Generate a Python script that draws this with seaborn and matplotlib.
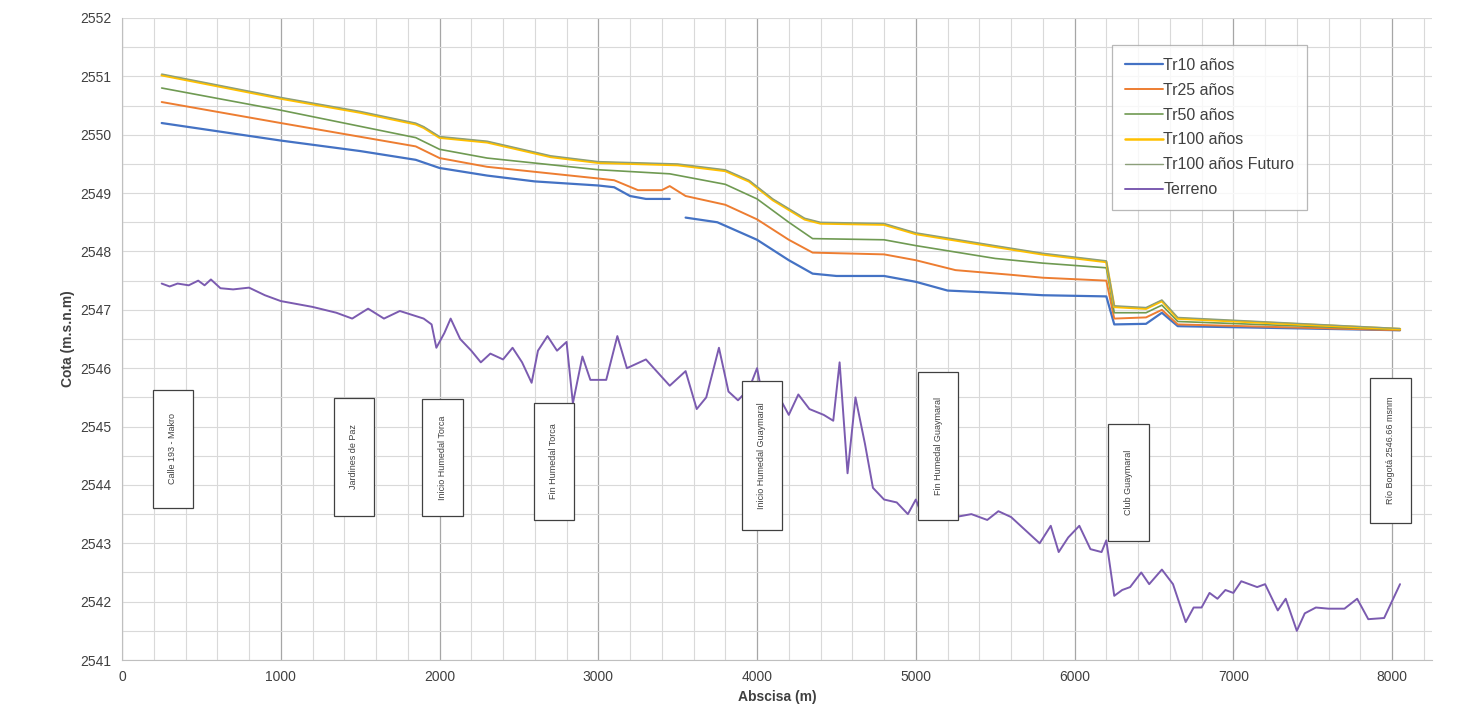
import pandas as pd
import matplotlib.pyplot as plt
import seaborn as sns
from matplotlib.patches import Rectangle
from matplotlib.ticker import MultipleLocator

# water surface profiles (abscisa m, cota m.s.n.m)
x_tr10_a = [250, 1000, 1500, 1850, 2000, 2300, 2600, 3000, 3100, 3200, 3300, 3450]
tr10_a = [2550.2, 2549.9, 2549.72, 2549.57, 2549.43, 2549.3, 2549.2, 2549.13, 2549.1, 2548.95, 2548.9, 2548.9]
x_tr10_b = [3550, 3750, 4000, 4200, 4350, 4500, 4800, 5000, 5200, 5600, 5800, 6200, 6250, 6450, 6550, 6650, 8050]
tr10_b = [2548.58, 2548.5, 2548.2, 2547.85, 2547.62, 2547.58, 2547.58, 2547.48, 2547.33, 2547.28, 2547.25,
          2547.23, 2546.75, 2546.76, 2546.95, 2546.72, 2546.65]

x_tr25 = [250, 1000, 1850, 2000, 2300, 3000, 3100, 3250, 3400, 3450, 3550, 3800, 4000, 4200, 4350, 4800,
          5000, 5250, 5600, 5800, 6200, 6250, 6450, 6550, 6650, 8050]
tr25 = [2550.56, 2550.2, 2549.8, 2549.6, 2549.45, 2549.25, 2549.22, 2549.05, 2549.05, 2549.12, 2548.95,
        2548.8, 2548.55, 2548.2, 2547.98, 2547.95, 2547.85, 2547.68, 2547.6, 2547.55, 2547.5, 2546.85,
        2546.87, 2547.0, 2546.75, 2546.65]

x_tr50 = [250, 1000, 1850, 2000, 2300, 3000, 3450, 3800, 4000, 4200, 4350, 4800, 5000, 5500, 5800, 6200,
          6250, 6450, 6550, 6650, 8050]
tr50 = [2550.8, 2550.42, 2549.95, 2549.75, 2549.6, 2549.4, 2549.33, 2549.15, 2548.9, 2548.5, 2548.22,
        2548.2, 2548.1, 2547.88, 2547.8, 2547.72, 2546.95, 2546.95, 2547.08, 2546.8, 2546.66]

x_tr100 = [250, 1000, 1500, 1850, 1900, 2000, 2300, 2700, 3000, 3500, 3800, 3950, 4100, 4300, 4400, 4800,
           5000, 5500, 5800, 6200, 6250, 6450, 6550, 6650, 8050]
tr100 = [2551.02, 2550.62, 2550.38, 2550.18, 2550.12, 2549.95, 2549.87, 2549.62, 2549.52, 2549.48, 2549.38,
         2549.2, 2548.88, 2548.55, 2548.48, 2548.46, 2548.3, 2548.08, 2547.95, 2547.82, 2547.05, 2547.02,
         2547.15, 2546.85, 2546.67]
tr100_fut = [2551.04, 2550.64, 2550.4, 2550.2, 2550.14, 2549.97, 2549.89, 2549.64, 2549.54, 2549.5, 2549.4,
             2549.22, 2548.9, 2548.57, 2548.5, 2548.48, 2548.32, 2548.1, 2547.97, 2547.84, 2547.07, 2547.04,
             2547.17, 2546.87, 2546.68]

x_terreno = [250, 300, 350, 420, 480, 520, 560, 620, 700, 800, 900, 1000, 1200, 1350, 1450, 1550, 1650,
             1750, 1900, 1950, 1980, 2030, 2070, 2130, 2200, 2260, 2320, 2400, 2460, 2520, 2580, 2620,
             2680, 2740, 2800, 2840, 2900, 2950, 3050, 3120, 3180, 3300, 3450, 3550, 3620, 3680, 3760,
             3820, 3880, 3950, 4000, 4050, 4120, 4200, 4260, 4330, 4420, 4480, 4520, 4570, 4620, 4680,
             4730, 4800, 4880, 4950, 5000, 5050, 5150, 5250, 5350, 5450, 5520, 5600, 5700, 5780, 5850,
             5900, 5960, 6030, 6100, 6170, 6200, 6250, 6300, 6350, 6420, 6470, 6550, 6620, 6700, 6750,
             6800, 6850, 6900, 6950, 7000, 7050, 7150, 7200, 7280, 7330, 7400, 7450, 7520, 7600, 7700,
             7780, 7850, 7950, 8050]
terreno = [2547.45, 2547.4, 2547.45, 2547.42, 2547.5, 2547.42, 2547.52, 2547.37, 2547.35, 2547.38,
           2547.25, 2547.15, 2547.05, 2546.95, 2546.85, 2547.02, 2546.85, 2546.98, 2546.85, 2546.75,
           2546.35, 2546.6, 2546.85, 2546.5, 2546.3, 2546.1, 2546.25, 2546.15, 2546.35, 2546.1,
           2545.75, 2546.3, 2546.55, 2546.3, 2546.45, 2545.4, 2546.2, 2545.8, 2545.8, 2546.55, 2546.0,
           2546.15, 2545.7, 2545.95, 2545.3, 2545.5, 2546.35, 2545.6, 2545.45, 2545.65, 2546.0, 2545.3,
           2545.6, 2545.2, 2545.55, 2545.3, 2545.2, 2545.1, 2546.1, 2544.2, 2545.5, 2544.7, 2543.95,
           2543.75, 2543.7, 2543.5, 2543.75, 2543.4, 2543.55, 2543.45, 2543.5, 2543.4, 2543.55, 2543.45,
           2543.2, 2543.0, 2543.3, 2542.85, 2543.1, 2543.3, 2542.9, 2542.85, 2543.05, 2542.1, 2542.2,
           2542.25, 2542.5, 2542.3, 2542.55, 2542.3, 2541.65, 2541.9, 2541.9, 2542.15, 2542.05, 2542.2,
           2542.15, 2542.35, 2542.25, 2542.3, 2541.85, 2542.05, 2541.5, 2541.8, 2541.9, 2541.88, 2541.88,
           2542.05, 2541.7, 2541.72, 2542.3]

# reference sites along the channel
site_names = ["Calle 193 - Makro", "Jardines de Paz", "Inicio Humedal Torca", "Fin Humedal Torca",
              "Inicio Humedal Guaymaral", "Fin Humedal Guaymaral", "Club Guaymaral", "Río Bogotá 2546.66 msnm"]
site_x = [320, 1460, 2020, 2720, 4030, 5140, 6340, 7990]
site_top = [2545.63, 2545.49, 2545.48, 2545.41, 2545.78, 2545.94, 2545.05, 2545.84]
site_bottom = [2543.61, 2543.47, 2543.46, 2543.40, 2543.22, 2543.40, 2543.04, 2543.34]

sns.set_style("white")
plt.rcParams["font.family"] = ["Liberation Sans", "DejaVu Sans"]

fig = plt.figure(figsize=(14.7, 7.19), dpi=100)
ax = fig.add_axes([0.083, 0.082, 0.891, 0.893])

series = [
    ("Tr10 años", x_tr10_a, tr10_a, "#4472C4", 1.6),
    (None, x_tr10_b, tr10_b, "#4472C4", 1.6),
    ("Tr25 años", x_tr25, tr25, "#ED7D31", 1.4),
    ("Tr50 años", x_tr50, tr50, "#6F9A52", 1.2),
    ("Tr100 años", x_tr100, tr100, "#FFC000", 1.8),
    ("Tr100 años Futuro", x_tr100, tr100_fut, "#8C9F7A", 1.0),
    ("Terreno", x_terreno, terreno, "#7B5BB0", 1.4),
]
for label, xs, ys, color, lw in series:
    df = pd.DataFrame({"x": xs, "y": ys})
    sns.lineplot(data=df, x="x", y="y", ax=ax, color=color, linewidth=lw,
                 sort=False, estimator=None, label=label if label else "_nolegend_")

ax.set_xlim(0, 8250)
ax.set_ylim(2541, 2552)
ax.xaxis.set_major_locator(MultipleLocator(1000))
ax.xaxis.set_minor_locator(MultipleLocator(200))
ax.yaxis.set_major_locator(MultipleLocator(1))
ax.yaxis.set_minor_locator(MultipleLocator(0.5))
ax.grid(which="major", axis="x", color="#a6a6a6", linewidth=0.9)
ax.grid(which="minor", axis="x", color="#d9d9d9", linewidth=0.8)
ax.grid(which="both", axis="y", color="#d9d9d9", linewidth=0.8)
ax.set_axisbelow(True)
for side in ["top", "right"]:
    ax.spines[side].set_visible(False)
ax.spines["left"].set_color("#bfbfbf")
ax.spines["bottom"].set_color("#bfbfbf")
ax.tick_params(axis="both", which="major", labelsize=10, length=4, color="#bfbfbf", labelcolor="#404040")
ax.tick_params(axis="both", which="minor", length=0)

ax.set_xlabel("Abscisa (m)", fontsize=10, fontweight="bold", color="#404040")
ax.set_ylabel("Cota (m.s.n.m)", fontsize=10, fontweight="bold", color="#404040")

box_w = 255
for name, sx, top, bot in zip(site_names, site_x, site_top, site_bottom):
    ax.add_patch(Rectangle((sx - box_w / 2, bot), box_w, top - bot, facecolor="white",
                           edgecolor="#404040", linewidth=0.9, zorder=5))
    ax.text(sx, (top + bot) / 2, name, rotation=90, ha="center", va="center",
            fontsize=6.5, color="#404040", zorder=6)

leg = ax.legend(loc="upper left", bbox_to_anchor=(0.756, 0.958), fontsize=11.5, frameon=True,
                fancybox=False, edgecolor="#a6a6a6", handlelength=2.4, handletextpad=0.0,
                labelspacing=0.62, borderpad=0.8, borderaxespad=0)
leg.get_frame().set_linewidth(0.9)
for t in leg.get_texts():
    t.set_color("#404040")

fig.savefig("out.png", dpi=100, facecolor="white")
plt.close(fig)
